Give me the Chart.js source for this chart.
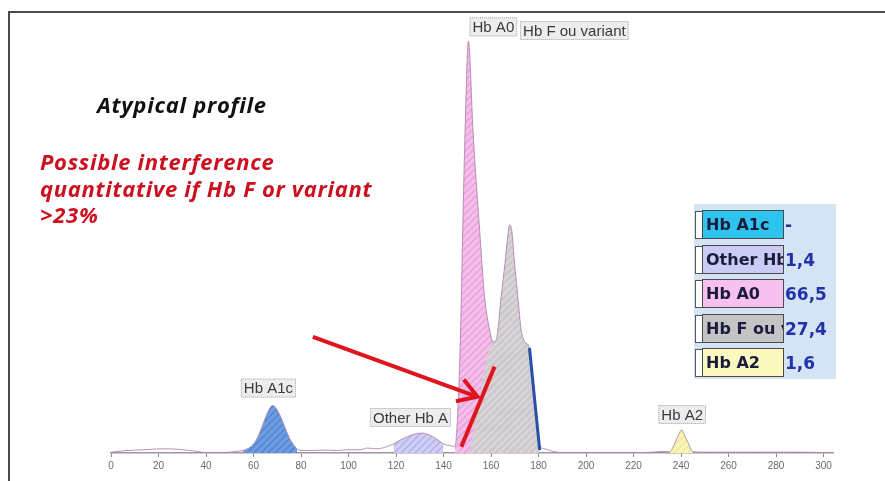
<!DOCTYPE html>
<html>
<head>
<meta charset="utf-8">
<script src="https://cdn.jsdelivr.net/npm/chart.js@4.4.0/dist/chart.umd.min.js"></script>
<style>
body { margin: 0; background: #fff; }
#wrap { position: relative; width: 885px; height: 481px; overflow: hidden; }
#frame { position: absolute; left: 8px; top: 11px; width: 900px; height: 500px;
  border-top: 2px solid #4a4a4a; border-left: 2px solid #4a4a4a; }
#chart { position: absolute; left: 0; top: 0; }
.note { position: absolute; left: 40px; font-family: "Open Sans", sans-serif; font-weight: 700;
  font-style: italic; font-size: 22px; letter-spacing: 0.7px; white-space: nowrap; }
#title { left: 97px; top: 90px; line-height: 28px; color: #111; }
#warn { top: 148px; line-height: 26.5px; color: #cc1020; }
#panel { position: absolute; left: 694px; top: 204px; width: 142px; height: 175px; background: #d4e4f4; }
.tab { position: absolute; left: 1px; width: 6px; height: 26px; border: 1px solid #555;
  border-right: none; background: #fff; }
.box { position: absolute; left: 8px; width: 77px; height: 27px; border: 1.5px solid #4a4a4a;
  font: bold 16px "DejaVu Sans", sans-serif; line-height: 28px; color: #1b1b3c;
  padding-left: 3px; overflow: hidden; white-space: nowrap; }
.val { position: absolute; left: 91px; font: bold 17px "DejaVu Sans", sans-serif;
  line-height: 30px; color: #2233aa; }
</style>
</head>
<body>
<div id="wrap">
  <canvas id="chart" width="885" height="481"></canvas>
  <div id="frame"></div>
  <div id="title" class="note">Atypical profile</div>
  <div id="warn" class="note">Possible interference<br>quantitative if Hb F or variant<br>&gt;23%</div>
  <div id="panel"></div>
</div>
<script>
// chromatogram trace (retention position, relative signal)
var traceX = [0, 5, 10, 15, 20, 25, 30, 35, 40, 45,
  50, 53, 55.6, 58, 60, 62, 64, 66, 68, 70,
  72, 74, 76, 78.3, 80, 85, 90, 95, 100, 105,
  108, 112, 116, 119, 122, 125, 128, 131, 134, 137,
  140, 142.5, 144.8, 145.3, 146.3, 147.2, 148.1, 149.1, 150.5, 152.4,
  155.2, 157.3, 159.4, 160.8, 162.2, 162.9, 164.3, 165.9, 166.9, 167.8,
  168.8, 169.9, 171.3, 172.7, 174.2, 176.2, 177.6, 178.9, 180.4, 182.7,
  185.6, 189.8, 200, 210, 220, 228, 232, 235.3, 237.4, 238.6,
  240.3, 241.6, 242.8, 245, 250, 260, 270, 280, 290, 300,
  304];
var traceY = [0.2, 0.5, 0.7, 0.8, 1.0, 1.0, 0.8, 0.5, 0.1, 0.1,
  0.2, 0.4, 0.6, 1.2, 2.2, 4.1, 7.0, 9.9, 11.5, 10.4,
  8.0, 5.1, 2.7, 1.0, 0.6, 0.6, 0.7, 0.6, 0.8, 0.8,
  1.2, 1.0, 1.5, 2.2, 3.2, 4.0, 4.6, 4.8, 4.4, 3.4,
  2.2, 1.8, 1.6, 3.1, 13.6, 29.8, 54.0, 78.2, 99.6, 78.2,
  54.0, 37.8, 29.8, 26.9, 27.4, 29.8, 37.8, 46.0, 51.6, 55.2,
  53.5, 46.0, 37.8, 29.8, 26.9, 25.4, 17.7, 9.2, 1.9, 1.0,
  0.5, 0.1, 0.1, 0.1, 0.1, 0.2, 0.4, 0.3, 2.4, 3.9,
  5.6, 4.1, 2.7, 0.3, 0.2, 0.2, 0.2, 0.2, 0.2, 0.1,
  0];

// integrated peaks: start / end of each shaded area
var peakNames = ["Hb A1c", "Other Hb A", "Hb A0", "Hb F ou variant", "Hb A2"];
var peakStart = [55.6, 119, 144.8, 160.8, 235.3];
var peakEnd = [78.3, 140, 160.8, 180.4, 245];
var hbFDropBase = 151; // foot of the slanted drop line between Hb A0 and Hb F

// peak label anchors
var labelX = [66.3, 126.1, 161.0, 195.1, 240.5];
var labelY = [15.7, 8.6, 103.1, 102.2, 9.3];

// result panel
var panelNames = ["Hb A1c", "Other Hb A", "Hb A0", "Hb F ou variant", "Hb A2"];
var panelValues = ["-", "1,4", "66,5", "27,4", "1,6"];
var panelColors = ["#2ec4f0", "#cbcbf3", "#f6c0ef", "#c4c4c4", "#fbf8c0"];

var xTicks = [0, 20, 40, 60, 80, 100, 120, 140, 160, 180, 200, 220, 240, 260, 280, 300];

// hand-drawn marks on the picture
var arrowFrom = [85.0, 28.1], arrowTo = [154.3, 13.6];
var redLine = [[147.5, 1.5], [161.5, 20.9]];
var blueLine = [[176.2, 25.4], [180.5, 0.7]];

function hatch(bg, ln) {
  var c = document.createElement("canvas");
  c.width = 7; c.height = 7;
  var g = c.getContext("2d");
  g.fillStyle = bg; g.fillRect(0, 0, 7, 7);
  g.strokeStyle = ln; g.lineWidth = 1.2;
  g.beginPath();
  g.moveTo(-1, 8); g.lineTo(8, -1);
  g.moveTo(-1, 1); g.lineTo(1, -1);
  g.moveTo(6, 8); g.lineTo(8, 6);
  g.stroke();
  return g.createPattern(c, "repeat");
}

var fills = [
  hatch("#6e9ce0", "#4d7ed0"),
  hatch("#cfcff5", "#a9a9e6"),
  hatch("#f4bdea", "#e69ad8"),
  hatch("#cdc9cd", "#e2dfe2"),
  hatch("#fbf6b4", "#ece39a")
];

var trace = traceX.map(function (x, i) { return { x: x, y: traceY[i] }; });

function peakPoints(i) {
  var pts = trace.filter(function (p) { return p.x >= peakStart[i] && p.x <= peakEnd[i]; });
  if (i === 3) pts.unshift({ x: hbFDropBase, y: 0 });
  return pts;
}

function peakSet(i) {
  return {
    data: peakPoints(i),
    borderWidth: 0,
    pointRadius: 0,
    fill: "origin",
    backgroundColor: fills[i],
    cubicInterpolationMode: "monotone"
  };
}

// first dataset is painted last, so Hb F sits over Hb A0 and the trace over all
var datasets = [{
  data: trace,
  borderColor: "rgba(175,135,170,0.9)",
  borderWidth: 1,
  pointRadius: 0,
  fill: false,
  cubicInterpolationMode: "monotone"
}, peakSet(3), peakSet(2), peakSet(0), peakSet(1), peakSet(4)];

function line(ctx, x, y, a, b, color, w) {
  ctx.beginPath();
  ctx.moveTo(x.getPixelForValue(a[0]), y.getPixelForValue(a[1]));
  ctx.lineTo(x.getPixelForValue(b[0]), y.getPixelForValue(b[1]));
  ctx.strokeStyle = color; ctx.lineWidth = w; ctx.lineCap = "butt";
  ctx.stroke();
}

var marks = {
  id: "marks",
  afterDatasetsDraw: function (chart) {
    var ctx = chart.ctx, x = chart.scales.x, y = chart.scales.y;
    ctx.save();
    ctx.font = '15px "Liberation Sans", Arial, sans-serif';
    ctx.textAlign = "center";
    ctx.textBaseline = "middle";
    peakNames.forEach(function (t, i) {
      var px = x.getPixelForValue(labelX[i]), py = y.getPixelForValue(labelY[i]);
      var w = ctx.measureText(t).width + 6, h = 19;
      ctx.fillStyle = "#ededed";
      ctx.fillRect(px - w / 2, py - h / 2, w, h);
      ctx.setLineDash([1, 1]);
      ctx.strokeStyle = "#a8a8a8"; ctx.lineWidth = 1;
      ctx.strokeRect(px - w / 2 + 0.5, py - h / 2 + 0.5, w - 1, h - 1);
      ctx.setLineDash([]);
      ctx.fillStyle = "#3a3a3a";
      ctx.fillText(t, px, py + 1);
    });

    // red arrow
    line(ctx, x, y, arrowFrom, arrowTo, "#e0141c", 4);
    var tx = x.getPixelForValue(arrowTo[0]), ty = y.getPixelForValue(arrowTo[1]);
    var ang = Math.atan2(ty - y.getPixelForValue(arrowFrom[1]), tx - x.getPixelForValue(arrowFrom[0]));
    ctx.beginPath();
    ctx.moveTo(tx - 22 * Math.cos(ang - 0.55), ty - 22 * Math.sin(ang - 0.55));
    ctx.lineTo(tx, ty);
    ctx.lineTo(tx - 22 * Math.cos(ang + 0.55), ty - 22 * Math.sin(ang + 0.55));
    ctx.strokeStyle = "#e0141c"; ctx.lineWidth = 4; ctx.lineJoin = "miter";
    ctx.stroke();

    line(ctx, x, y, redLine[0], redLine[1], "#e0141c", 4);
    line(ctx, x, y, blueLine[0], blueLine[1], "#2a4fa6", 3);
    ctx.restore();
  }
};

new Chart(document.getElementById("chart"), {
  type: "line",
  data: { datasets: datasets },
  options: {
    responsive: false,
    animation: false,
    layout: { padding: { left: 111, right: 52, top: 19, bottom: 0 } },
    plugins: { legend: { display: false }, tooltip: { enabled: false } },
    scales: {
      x: {
        type: "linear",
        min: 0,
        max: 304,
        afterFit: function (s) { s.height = 28; },
        afterBuildTicks: function (s) { s.ticks = xTicks.map(function (v) { return { value: v }; }); },
        grid: { drawOnChartArea: false, tickLength: 4, color: "#8a8a8a" },
        border: { color: "#9a9a9a", width: 1.5 },
        ticks: { color: "#6a6a6a", font: { size: 10, family: "Arial" }, padding: 3, maxRotation: 0 }
      },
      y: { display: false, min: 0, max: 105 }
    }
  },
  plugins: [marks]
});

var panel = document.getElementById("panel");
panelNames.forEach(function (n, i) {
  var top = 6 + i * 34.5;
  var tab = document.createElement("div");
  tab.className = "tab"; tab.style.top = (top + 1) + "px";
  var box = document.createElement("div");
  box.className = "box"; box.style.top = top + "px";
  box.style.background = panelColors[i];
  box.textContent = n;
  var val = document.createElement("div");
  val.className = "val"; val.style.top = top + "px";
  val.textContent = panelValues[i];
  panel.appendChild(tab); panel.appendChild(box); panel.appendChild(val);
});
</script>
</body>
</html>
